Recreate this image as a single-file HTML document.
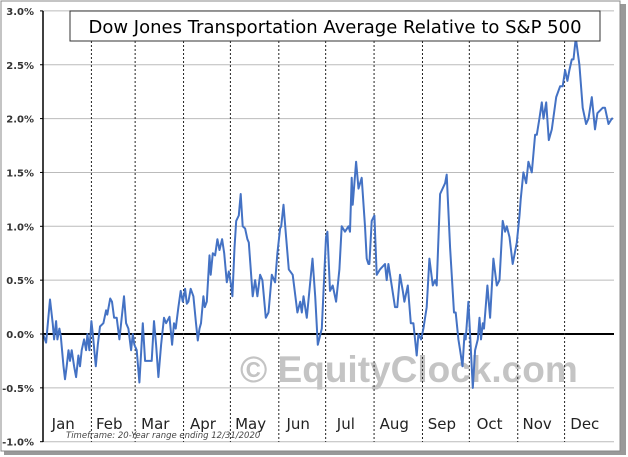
<!DOCTYPE html>
<html><head><meta charset="utf-8"><style>
body{margin:0;background:#fff;width:628px;height:457px;overflow:hidden}
svg{display:block}
</style></head><body>
<svg id="chart" width="628" height="457" xmlns="http://www.w3.org/2000/svg" font-family="'DejaVu Sans','Liberation Sans',sans-serif">
<rect x="4" y="4" width="622" height="451" fill="#999"/>
<rect x="1" y="1" width="619" height="450" fill="#fff" stroke="#888"/>
<g id="grid"></g>
<text x="240" y="382" font-size="37" font-weight="bold" fill="#c4c4c4" font-family="'Liberation Sans',sans-serif">© EquityClock.com</text>
<g id="months"></g>
<polyline id="line" fill="none" stroke="#4472c4" stroke-width="2" stroke-linejoin="round"/>
<g id="yticks"></g>
<line x1="43" y1="11" x2="43" y2="442" stroke="#000" stroke-width="1.5"/>
<rect x="70" y="11" width="530" height="30" fill="#fff" stroke="#333"/>
<text x="335" y="33" font-size="18" text-anchor="middle" fill="#000">Dow Jones Transportation Average Relative to S&amp;P 500</text>
<text x="66" y="438" font-size="8.5" font-style="italic" fill="#444">Timeframe: 20-Year range ending 12/31/2020</text>
</svg>
<script>
const days=[0,2,4.5,6.2,7.1,8.4,9.2,10.5,11.4,13.1,14.1,15.2,16.3,17.3,18.4,19.9,21.2,22.7,23.7,24.8,26.3,27.6,28.4,29.7,31,31.9,33.8,35.1,36.5,38.7,40.4,41.2,43,44.2,45.5,47.2,48.9,50.4,51.9,53.2,54.7,56.4,57.5,58.5,60,61.7,63.9,65.4,67.5,69.6,71.1,72.4,73.9,75.6,77.5,78.8,81,82.7,83.9,85,86.7,88.2,89.5,91,92.1,93.1,94.6,96.3,98,99.1,100.2,101.2,102.7,103.6,104.9,106.6,107.4,108.7,110.2,111.7,113,114.7,116,117.7,119,120.5,121.3,122.6,123.7,125.4,126.6,127.9,129.4,130.9,131.8,134.3,135.8,137.3,139,140.5,142.7,144.4,146.5,148.6,150.1,151.8,152.5,154,155.7,157.4,159.9,162.9,164.7,165.7,166.8,168.9,171.1,172.6,174.3,176,178.5,181.2,182.1,183.8,185.5,187.7,189.8,191.3,193.4,195.6,196.6,197.7,198.3,200.5,202,204.1,206.2,207.3,208.4,209,210.5,212.2,213.7,215.8,219,220.1,221.2,223.3,225.4,226.9,228.6,230.4,231.4,233.6,235.5,237.2,239.3,240.4,242.1,243.6,245.7,247.4,249.6,251.1,252.1,254.3,257.5,258.5,260.7,263.2,264.3,266,267.1,268.6,269.9,270.7,272.4,275.2,276.7,278.4,279.5,280.5,281.6,282.4,284.6,286.3,288.4,290.6,292.3,294.4,295.9,297,298.7,300.8,303.4,305.1,305.9,307.6,309.4,310.8,313,315.1,316.2,317.9,319.4,320.5,322.2,323.9,325.8,328.6,331.1,332.8,334.3,335.8,337.1,338.6,339.7,341.2,343.5,345.6,347.8,349.3,351.4,353.5,355,358.4,359.9,362.1,364.2,365];
const values=[0,-0.08,0.32,0.1,-0.05,0.12,-0.05,0.05,-0.02,-0.3,-0.42,-0.3,-0.15,-0.25,-0.15,-0.3,-0.4,-0.2,-0.3,-0.15,-0.05,-0.15,0,-0.15,0.12,0,-0.3,-0.1,0.07,0.1,0.22,0.18,0.33,0.3,0.15,0.15,-0.05,0.15,0.35,0.1,0.05,-0.15,0,-0.1,-0.15,-0.45,0.1,-0.25,-0.25,-0.25,0.12,-0.1,-0.4,-0.1,0.15,0.1,0.16,-0.1,0.1,0.05,0.25,0.4,0.3,0.42,0.28,0.3,0.42,0.35,0.1,-0.06,0.05,0.1,0.35,0.25,0.3,0.73,0.55,0.75,0.73,0.88,0.78,0.88,0.75,0.48,0.58,0.45,0.35,0.8,1.05,1.1,1.3,1.0,0.98,0.88,0.85,0.35,0.5,0.35,0.55,0.5,0.15,0.2,0.55,0.48,0.75,0.98,1.0,1.2,0.9,0.6,0.55,0.2,0.3,0.2,0.35,0.15,0.48,0.7,0.35,-0.1,0.05,0.9,0.95,0.4,0.45,0.3,0.6,1.0,0.95,1.0,0.95,1.45,1.2,1.6,1.35,1.45,1.0,0.7,0.65,0.65,1.05,1.1,0.55,0.6,0.65,0.5,0.65,0.45,0.25,0.25,0.55,0.4,0.3,0.45,0.1,0.1,-0.2,0,-0.05,0.05,0.25,0.7,0.45,0.5,0.45,1.3,1.4,1.48,0.8,0.2,0.2,-0.05,-0.15,-0.3,0,-0.05,0.3,-0.5,-0.15,-0.05,0.15,-0.05,0.1,0.05,0.45,0.15,0.7,0.45,0.5,1.05,0.95,1.0,0.9,0.65,0.85,1.1,1.25,1.5,1.4,1.6,1.5,1.85,1.85,2.0,2.15,2.0,2.15,1.8,1.9,2.2,2.3,2.3,2.45,2.35,2.45,2.55,2.55,2.75,2.5,2.1,1.95,2.0,2.2,1.9,2.05,2.1,2.1,1.95,2.0,2.0];
const yTicks=[3.0,2.5,2.0,1.5,1.0,0.5,0.0,-0.5,-1.0];
const months=["Jan","Feb","Mar","Apr","May","Jun","Jul","Aug","Sep","Oct","Nov","Dec"];
const monthStarts=[0,31,59,90,120,151,181,212,243,273,304,334,365];
const X=d=>43+d*570/365;
const Y=v=>334-v*107.7;
const NS="http://www.w3.org/2000/svg";
function mk(tag,attrs,parent,txt){const e=document.createElementNS(NS,tag);for(const k in attrs)e.setAttribute(k,attrs[k]);if(txt!=null)e.textContent=txt;parent.appendChild(e);return e;}
const grid=document.getElementById('grid'),yt=document.getElementById('yticks'),mg=document.getElementById('months');
yTicks.forEach(v=>{
  const g=mk('line',{x1:43,x2:614,y1:Y(v),y2:Y(v),stroke:v===0?'#000':'#bbb','stroke-width':v===0?2:1},grid);
  
  
  const tk=mk('line',{x1:40,x2:43,y1:Y(v),y2:Y(v),stroke:'#000'},yt);
  
  
  const t=mk('text',{x:34,y:Y(v)+4,'font-size':10,'font-weight':'bold','text-anchor':'end',fill:'#333'},yt,v.toFixed(1)+'%');
  
  
});
months.forEach((m,i)=>{
  if(i>0){const l=mk('line',{x1:X(monthStarts[i]),x2:X(monthStarts[i]),y1:41,y2:442,stroke:'#222','stroke-dasharray':'2,2'},mg);
  
  }
  const t=mk('text',{x:(X(monthStarts[i])+X(monthStarts[i+1]))/2-4,y:429,'font-size':15,'text-anchor':'middle',fill:'#222'},mg,m);
  
  
});
document.getElementById('line').setAttribute('points',days.map((d,i)=>X(d).toFixed(1)+','+Y(values[i]).toFixed(1)).join(' '));
</script>
</body></html>
